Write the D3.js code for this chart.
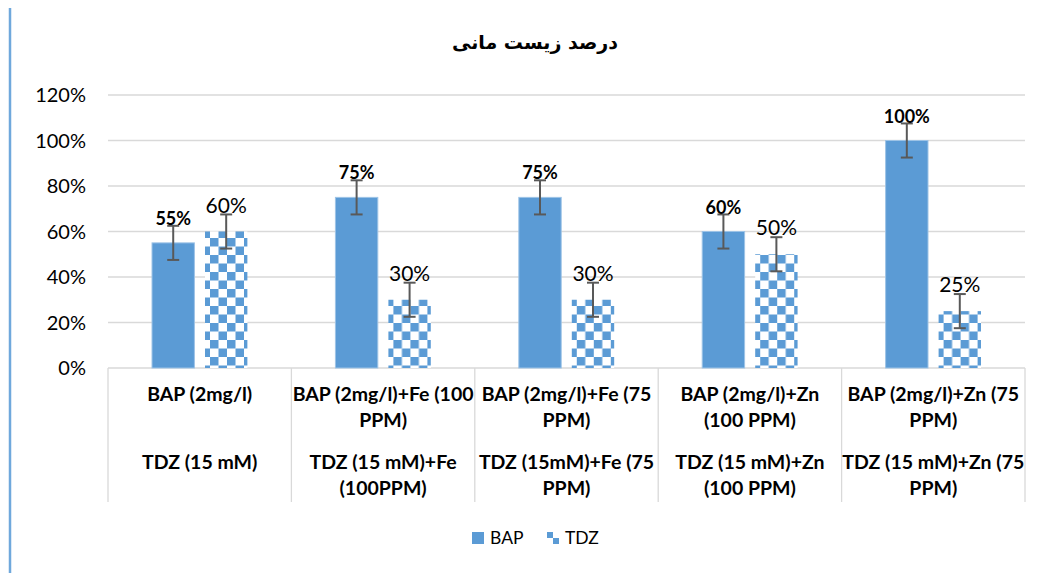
<!DOCTYPE html>
<html>
<head>
<meta charset="utf-8">
<script src="https://cdn.jsdelivr.net/npm/d3@7"></script>
<style>
  body { margin: 0; background: #fff; }
  svg text { font-family: Lato, "Open Sans", sans-serif; fill: #000; }
</style>
</head>
<body>
<div class="chart"></div>
<script>
// Data
var categories = ["c1", "c2", "c3", "c4", "c5"];
var bapLabels = [["BAP (2mg/l)"], ["BAP (2mg/l)+Fe (100", "PPM)"], ["BAP (2mg/l)+Fe (75", "PPM)"], ["BAP (2mg/l)+Zn", "(100 PPM)"], ["BAP (2mg/l)+Zn (75", "PPM)"]];
var tdzLabels = [["TDZ (15 mM)"], ["TDZ (15 mM)+Fe", "(100PPM)"], ["TDZ (15mM)+Fe (75", "PPM)"], ["TDZ (15 mM)+Zn", "(100 PPM)"], ["TDZ (15 mM)+Zn (75", "PPM)"]];
var seriesNames = ["BAP", "TDZ"];
var bapValues = [0.55, 0.75, 0.75, 0.60, 1.00];
var tdzValues = [0.60, 0.30, 0.30, 0.50, 0.25];
var errorValue = 0.075;
var yTicks = [0, 0.2, 0.4, 0.6, 0.8, 1.0, 1.2];

var width = 1045,
  height = 573,
  plotLeft = 108,
  plotRight = 1025,
  plotTop = 95,
  plotBottom = 368,
  blue = "#5b9bd5",
  gridColor = "#d9d9d9",
  errColor = "#595959";

var svg = d3.select(".chart").append("svg")
  .attr("width", width)
  .attr("height", height);

// checker pattern for TDZ
var defs = svg.append("defs");
var pat = defs.append("pattern")
  .attr("id", "checker")
  .attr("patternUnits", "userSpaceOnUse")
  .attr("width", 17).attr("height", 17)
  .attr("x", 0).attr("y", 0);
pat.append("rect").attr("width", 17).attr("height", 17).attr("fill", "#fff");
pat.append("rect").attr("x", 0).attr("y", 0).attr("width", 8.5).attr("height", 8.5).attr("fill", blue);
pat.append("rect").attr("x", 8.5).attr("y", 8.5).attr("width", 8.5).attr("height", 8.5).attr("fill", blue);

var legPat = defs.append("pattern")
  .attr("id", "checkerSmall")
  .attr("patternUnits", "userSpaceOnUse")
  .attr("width", 12).attr("height", 12);
legPat.append("rect").attr("width", 12).attr("height", 12).attr("fill", "#fff");
legPat.append("rect").attr("width", 6).attr("height", 6).attr("fill", blue);
legPat.append("rect").attr("x", 6).attr("y", 6).attr("width", 6).attr("height", 6).attr("fill", blue);

// left blue border line
svg.append("line")
  .attr("x1", 10).attr("x2", 10)
  .attr("y1", 8).attr("y2", height)
  .attr("stroke", "#6fa8dc").attr("stroke-width", 2.5);

// title
svg.append("text")
  .attr("x", 535).attr("y", 49)
  .attr("text-anchor", "middle")
  .style("font-family", '"DejaVu Sans", sans-serif')
  .style("font-weight", "bold")
  .style("font-size", "19px")
  .attr("direction", "rtl")
  .text("درصد زیست مانی");

var x = d3.scaleBand().domain(categories).range([plotLeft, plotRight]);
var xInner = d3.scaleBand().domain(seriesNames)
  .range([x.bandwidth() * 0.24, x.bandwidth() * 0.76])
  .paddingInner(0.2);
var y = d3.scaleLinear().domain([0, 1.2]).range([plotBottom, plotTop]);

// grid lines
svg.append("g").selectAll("line")
  .data(yTicks)
  .enter().append("line")
    .attr("x1", plotLeft).attr("x2", plotRight)
    .attr("y1", function(d) { return y(d); })
    .attr("y2", function(d) { return y(d); })
    .attr("stroke", gridColor).attr("stroke-width", 1.3);

// y tick labels
svg.append("g").selectAll("text")
  .data(yTicks)
  .enter().append("text")
    .attr("x", 86)
    .attr("y", function(d) { return y(d); })
    .attr("dy", "0.35em")
    .attr("text-anchor", "end")
    .style("font-size", "20px")
    .text(d3.format(".0%"));

// category separators under the axis
svg.append("g").selectAll("line")
  .data(categories.concat(["end"]))
  .enter().append("line")
    .attr("x1", function(d, i) { return plotLeft + i * x.step(); })
    .attr("x2", function(d, i) { return plotLeft + i * x.step(); })
    .attr("y1", plotBottom).attr("y2", 502)
    .attr("stroke", gridColor).attr("stroke-width", 1.3);

// category labels
function drawLabels(labels, y0) {
  svg.append("g").selectAll("text")
    .data(labels)
    .enter().append("text")
      .attr("text-anchor", "middle")
      .style("font-size", "19.5px")
      .style("font-weight", "bold")
      .each(function(lines, i) {
        var t = d3.select(this);
        lines.forEach(function(line, j) {
          t.append("tspan")
            .attr("x", x(categories[i]) + x.bandwidth() / 2)
            .attr("y", y0 + j * 25.5)
            .text(line);
        });
      });
}
drawLabels(bapLabels, 401);
drawLabels(tdzLabels, 469);

// bars
var rows = categories.map(function(c, i) {
  return [
    { cat: c, series: "BAP", value: bapValues[i] },
    { cat: c, series: "TDZ", value: tdzValues[i] }
  ];
});

var groups = svg.append("g").selectAll("g")
  .data(rows)
  .enter().append("g")
    .attr("transform", function(d) { return "translate(" + x(d[0].cat) + ",0)"; });

groups.selectAll("rect")
  .data(function(d) { return d; })
  .enter().append("rect")
    .attr("x", function(d) { return xInner(d.series); })
    .attr("y", function(d) { return y(d.value); })
    .attr("width", xInner.bandwidth())
    .attr("height", function(d) { return y(0) - y(d.value); })
    .attr("fill", function(d) { return d.series === "BAP" ? blue : "url(#checker)"; })
    .attr("stroke", function(d) { return d.series === "BAP" ? "#9dc3e6" : "none"; })
    .attr("stroke-width", 1);

// error bars
var err = groups.selectAll("g.err")
  .data(function(d) { return d; })
  .enter().append("g")
    .attr("class", "err")
    .attr("transform", function(d) { return "translate(" + (xInner(d.series) + xInner.bandwidth() / 2) + ",0)"; });
err.append("line")
  .attr("x1", 0).attr("x2", 0)
  .attr("y1", function(d) { return y(d.value + errorValue); })
  .attr("y2", function(d) { return y(d.value - errorValue); })
  .attr("stroke", errColor).attr("stroke-width", 2);
err.append("line")
  .attr("x1", -6).attr("x2", 6)
  .attr("y1", function(d) { return y(d.value + errorValue); })
  .attr("y2", function(d) { return y(d.value + errorValue); })
  .attr("stroke", errColor).attr("stroke-width", 2);
err.append("line")
  .attr("x1", -6).attr("x2", 6)
  .attr("y1", function(d) { return y(d.value - errorValue); })
  .attr("y2", function(d) { return y(d.value - errorValue); })
  .attr("stroke", errColor).attr("stroke-width", 2);

// value labels
groups.selectAll("text.val")
  .data(function(d) { return d; })
  .enter().append("text")
    .attr("class", "val")
    .attr("x", function(d) { return xInner(d.series) + xInner.bandwidth() / 2; })
    .attr("y", function(d) { return y(d.value) - (d.series === "BAP" ? 18 : 19); })
    .attr("text-anchor", "middle")
    .style("font-size", function(d) { return d.series === "BAP" ? "18px" : "21px"; })
    .style("font-weight", function(d) { return d.series === "BAP" ? "bold" : "normal"; })
    .text(function(d) { return d3.format(".0%")(d.value); });

// legend
var legend = svg.append("g").selectAll("g")
  .data(seriesNames)
  .enter().append("g")
    .attr("transform", function(d, i) { return "translate(" + (472 + i * 75) + ",532)"; });
legend.append("rect")
  .attr("width", 12).attr("height", 12)
  .attr("fill", function(d) { return d === "BAP" ? blue : "url(#checkerSmall)"; });
legend.append("text")
  .attr("x", 18).attr("y", 6)
  .attr("dy", "0.35em")
  .style("font-size", "17.5px")
  .text(function(d) { return d; });
</script>
</body>
</html>
